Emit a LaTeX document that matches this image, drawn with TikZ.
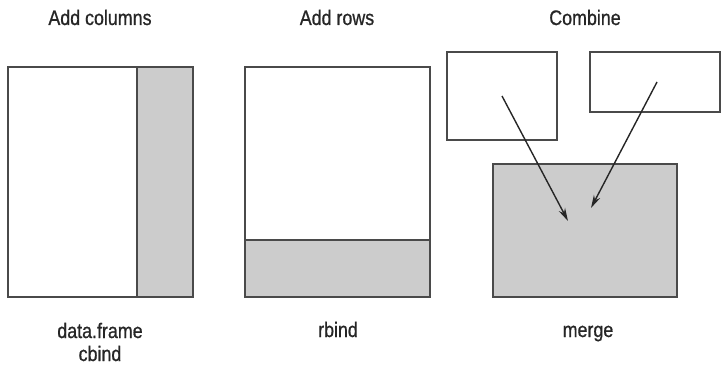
\documentclass[tikz,border=0pt]{standalone}
\usepackage{fontspec}
\setmainfont{Liberation Sans}[FakeStretch=0.85,FakeBold=0.8]
\usetikzlibrary{arrows.meta}
\definecolor{edge}{HTML}{4A4A4A}
\definecolor{shade}{HTML}{CCCCCC}
\tikzset{
  box/.style={draw=edge, line width=1.4pt, anchor=north west, inner sep=0pt, outer sep=0pt},
  fillbox/.style={box, fill=shade},
  lbl/.style={font=\fontsize{21}{23}\selectfont, text=black!85, align=center, inner sep=0pt},
  arr/.style={draw=black!85, line width=1.4pt, -{Stealth[length=13pt,width=7pt]}}
}
\begin{document}
\begin{tikzpicture}[x=1pt,y=-1pt]
\useasboundingbox (0,0) rectangle (722,369);
% Panel 1
\node[box, minimum width=129pt, minimum height=230pt] (c1) at (8,67) {};
\node[fillbox, minimum width=56pt, minimum height=230pt] (c2) at (137,67) {};
% Panel 2
\node[box, minimum width=185pt, minimum height=230pt] (r1) at (245,67) {};
\node[fillbox, minimum width=185pt, minimum height=57pt] (r2) at (245,240) {};
% Panel 3
\node[box, minimum width=110pt, minimum height=88pt] (m1) at (447,52) {};
\node[box, minimum width=130pt, minimum height=60pt] (m2) at (590,52) {};
\node[fillbox, minimum width=184pt, minimum height=133pt] (m3) at (493,164) {};
\coordinate (a1s) at (502,96);
\coordinate (a1e) at (568,221);
\coordinate (a2s) at (657,82);
\coordinate (a2e) at (591,208);
\draw[arr] (a1s) -- (a1e);
\draw[arr] (a2s) -- (a2e);
% Labels
\node[lbl, anchor=base] (t1) at (100,25) {Add columns};
\node[lbl, anchor=base] (t2) at (337,25) {Add rows};
\node[lbl, anchor=base] (t3) at (585,25) {Combine};
\node[lbl] (b1) at (100,342) {data.frame\\cbind};
\node[lbl, anchor=base] (b2) at (338,337) {rbind};
\node[lbl, anchor=base] (b3) at (588,337) {merge};
\end{tikzpicture}
\end{document}
